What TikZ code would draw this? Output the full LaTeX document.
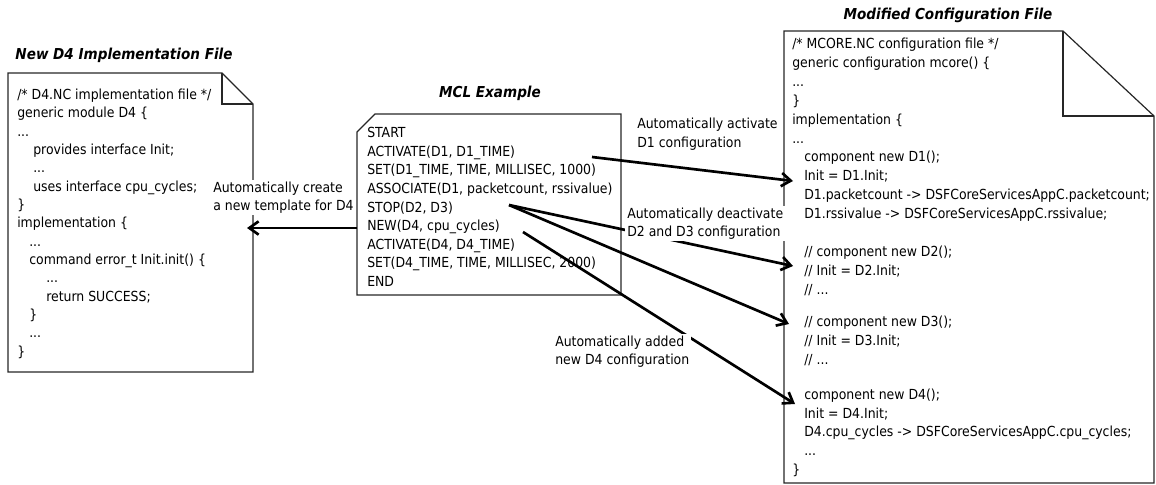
\documentclass[tikz,border=0pt]{standalone}
\usepackage{fontspec}
\setmainfont{DejaVu Sans Condensed}
\usetikzlibrary{arrows.meta}
\begin{document}
\begin{tikzpicture}[x=0.75pt,y=-0.75pt,
  box/.style={draw=black!85, line width=0.9pt, line join=miter},
  code/.style={anchor=base west, inner sep=0pt, font=\fontsize{10.4}{12}\selectfont},
  lbl/.style={align=left, anchor=west, fill=white, inner sep=1.5pt, font=\fontsize{10.4}{13.9}\selectfont},
  ttl/.style={anchor=center, inner sep=0pt, font=\fontsize{11.3}{13}\selectfont\bfseries\itshape},
  arr/.style={-{Straight Barb[length=7pt,width=10pt]}, line width=2pt}]
\useasboundingbox (0,0) rectangle (1156,485);

% titles
\node[ttl] (t1) at (124,55) {New D4 Implementation File};
\node[ttl] (t2) at (490,93) {MCL Example};
\node[ttl] (t3) at (948,15) {Modified Configuration File};

% left file
\draw[box] (8,73) -- (222,73) -- (253,104) -- (253,372) -- (8,372) -- cycle;
\draw[box] (222,73) -- (222,104) -- (253,104);
\foreach \x/\t [count=\i] in {
  17/{/* D4.NC implementation file */},
  17/{generic module D4 \{},
  17/{...},
  33/{provides interface Init;},
  33/{...},
  33/{uses interface cpu\_cycles;},
  17/{\}},
  17/{implementation \{},
  29/{...},
  29/{command error\_t Init.init() \{},
  46/{...},
  46/{return SUCCESS;},
  29/{\}},
  29/{...},
  17/{\}}}
  \node[code] (L\i) at (\x,{99.5+18.33*(\i-1)}) {\t};

% MCL box
\draw[box] (357,132) -- (375,114) -- (621,114) -- (621,295) -- (357,295) -- cycle;
\foreach \t [count=\i] in {
  {START},
  {ACTIVATE(D1, D1\_TIME)},
  {SET(D1\_TIME, TIME, MILLISEC, 1000)},
  {ASSOCIATE(D1, packetcount, rssivalue)},
  {STOP(D2, D3)},
  {NEW(D4, cpu\_cycles)},
  {ACTIVATE(D4, D4\_TIME)},
  {SET(D4\_TIME, TIME, MILLISEC, 2000)},
  {END}}
  \node[code] (M\i) at (367,{137.8+18.55*(\i-1)}) {\t};

% right file
\draw[box] (784,31) -- (1063,31) -- (1154,116) -- (1154,483) -- (784,483) -- cycle;
\draw[box] (1063,31) -- (1063,116) -- (1154,116);
\foreach \y/\x/\t [count=\i] in {
  48.8/792/{/* MCORE.NC configuration file */},
  67.65/792/{generic configuration mcore() \{},
  86.5/792/{...},
  105.35/792/{\}},
  124.2/792/{implementation \{},
  143.05/792/{...},
  161.9/804/{component new D1();},
  180.75/804/{Init = D1.Init;},
  199.6/804/{D1.packetcount -> DSFCoreServicesAppC.packetcount;},
  218.45/804/{D1.rssivalue -> DSFCoreServicesAppC.rssivalue;},
  256.2/804/{// component new D2();},
  275.5/804/{// Init = D2.Init;},
  294.5/804/{// ...},
  326.2/804/{// component new D3();},
  345.2/804/{// Init = D3.Init;},
  364/804/{// ...},
  399.5/804/{component new D4();},
  418.3/804/{Init = D4.Init;},
  436.8/804/{D4.cpu\_cycles -> DSFCoreServicesAppC.cpu\_cycles;},
  455.5/804/{...},
  474.5/792/{\}}}
  \node[code] (R\i) at (\x,\y) {\t};

% connector end points
\coordinate (s1) at (592,157);
\coordinate (e1) at (793,181);
\coordinate (s2) at (509,205);
\coordinate (e2) at (793,266);
\coordinate (e3) at (789,324);
\coordinate (s4) at (523,232);
\coordinate (e4) at (795,404);
\coordinate (s5) at (357,228);
\coordinate (e5) at (247,228);

\draw[arr] (s1) -- (e1);
\draw[arr] (s2) -- (e2);
\draw[arr] (s2) -- (e3);
\draw[arr] (s4) -- (e4);
\draw[arr] (s5) -- (e5);

% labels
\node[lbl] (lab1) at (211,197.5) {Automatically create\\a new template for D4};
\node[lbl] (lab2) at (635,134) {Automatically activate\\D1 configuration};
\node[lbl] (lab3) at (625,223.5) {Automatically deactivate\\D2 and D3 configuration};
\node[lbl] (lab4) at (553,351.5) {Automatically added\\new D4 configuration};
\end{tikzpicture}
\end{document}
